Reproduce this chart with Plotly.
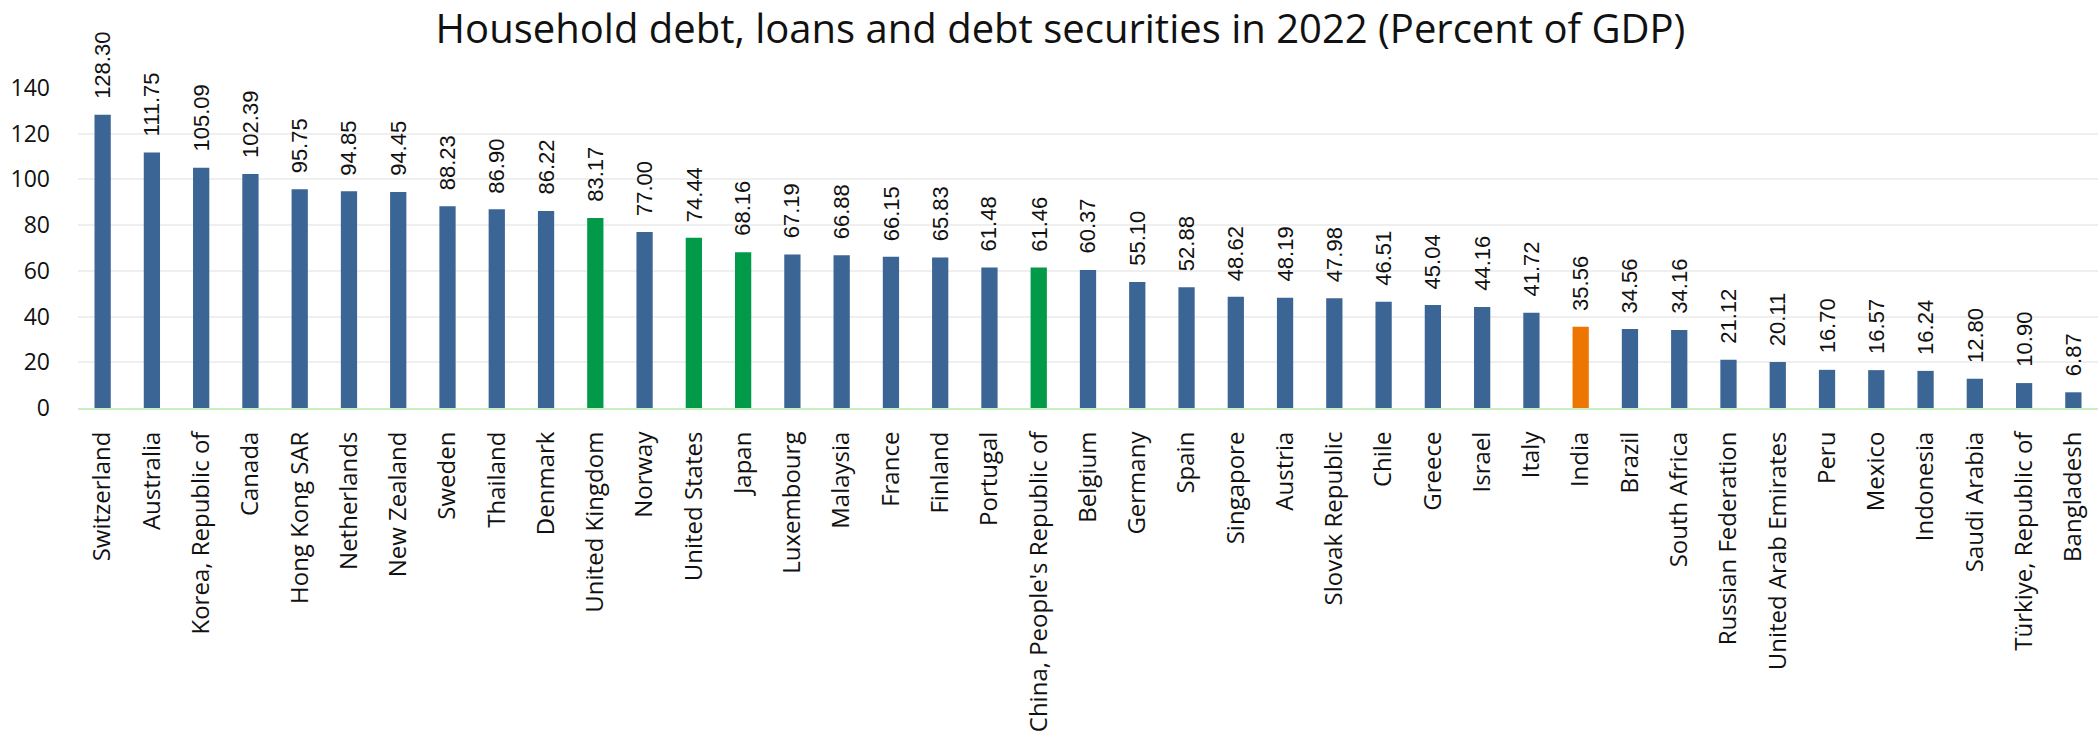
import plotly.graph_objects as go

countries = ["Switzerland", "Australia", "Korea, Republic of", "Canada", "Hong Kong SAR",
             "Netherlands", "New Zealand", "Sweden", "Thailand", "Denmark",
             "United Kingdom", "Norway", "United States", "Japan", "Luxembourg",
             "Malaysia", "France", "Finland", "Portugal", "China, People's Republic of",
             "Belgium", "Germany", "Spain", "Singapore", "Austria",
             "Slovak Republic", "Chile", "Greece", "Israel", "Italy",
             "India", "Brazil", "South Africa", "Russian Federation", "United Arab Emirates",
             "Peru", "Mexico", "Indonesia", "Saudi Arabia", "Türkiye, Republic of",
             "Bangladesh"]
values = [128.30, 111.75, 105.09, 102.39, 95.75,
          94.85, 94.45, 88.23, 86.90, 86.22,
          83.17, 77.00, 74.44, 68.16, 67.19,
          66.88, 66.15, 65.83, 61.48, 61.46,
          60.37, 55.10, 52.88, 48.62, 48.19,
          47.98, 46.51, 45.04, 44.16, 41.72,
          35.56, 34.56, 34.16, 21.12, 20.11,
          16.70, 16.57, 16.24, 12.80, 10.90,
          6.87]
green_group = ["United Kingdom", "United States", "Japan", "China, People's Republic of"]
orange_group = ["India"]

BLUE = "#3A6594"
GREEN = "#009A49"
ORANGE = "#EE7600"

colors = [GREEN if c in green_group else ORANGE if c in orange_group else BLUE for c in countries]

fig = go.Figure(go.Bar(
    x=countries, y=values,
    marker=dict(color=colors, line=dict(width=0)),
    cliponaxis=False,
    hovertemplate="%{x}: %{y:.2f}<extra></extra>",
))

# value labels above bars (rotated), positioned in data coordinates
for c, v in zip(countries, values):
    fig.add_annotation(
        x=c, y=v, xref="x", yref="y",
        text=f"{v:.2f}", textangle=-90,
        xanchor="center", yanchor="bottom", yshift=14,
        showarrow=False,
        font=dict(family="Liberation Sans", size=22, color="#111111"),
    )

fig.update_layout(
    width=2100, height=747,
    margin=dict(l=78, r=2, t=88, b=339),
    paper_bgcolor="white", plot_bgcolor="white",
    bargap=0.67,
    showlegend=False,
    title=dict(text="Household debt, loans and debt securities in 2022 (Percent of GDP)",
               x=0.505, xref="container", xanchor="center",
               y=1 - 29 / 747, yref="container", yanchor="middle",
               font=dict(family="Open Sans", size=40, color="#111111")),
)
fig.update_xaxes(
    tickangle=-90, showgrid=False,
    showline=True, linecolor="#C8EEC4", linewidth=2,
    tickfont=dict(family="Open Sans", size=24, color="#111111"),
    ticklabelstandoff=12,
)
fig.update_yaxes(
    range=[0, 140], tickvals=[0, 20, 40, 60, 80, 100, 120, 140],
    showgrid=True, gridcolor="#EFEFEF", gridwidth=1.5,
    zeroline=False, showline=False,
    tickfont=dict(family="Open Sans", size=23, color="#111111"),
    ticklabelstandoff=27,
)

fig.write_html("out.html")
